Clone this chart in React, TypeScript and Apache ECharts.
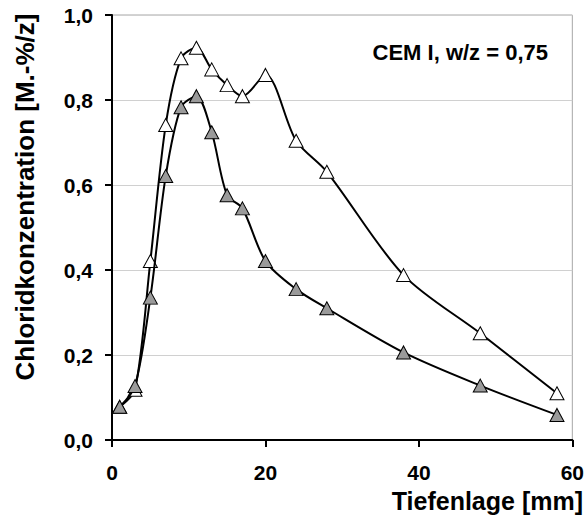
import React, { useEffect, useRef } from "react";
import * as echarts from "echarts";

const depths = [1, 3, 5, 7, 9, 11, 13, 15, 17, 20, 24, 28, 38, 48, 58];
const seriesOpen = [0.078, 0.118, 0.421, 0.741, 0.898, 0.923, 0.872, 0.835, 0.809, 0.859, 0.704, 0.631, 0.388, 0.251, 0.11];
const seriesFilled = [0.078, 0.127, 0.335, 0.621, 0.783, 0.809, 0.724, 0.576, 0.545, 0.421, 0.355, 0.31, 0.206, 0.128, 0.059];
const xTicks = [0, 20, 40, 60];
const yTicks = [0, 0.2, 0.4, 0.6, 0.8, 1.0];
const annotation = "CEM I, w/z = 0,75";
const xName = "Tiefenlage [mm]";
const yName = "Chloridkonzentration [M.-%/z]";

const FONT = "'Liberation Sans', Arial, sans-serif";

export default function App() {
  const ref = useRef<HTMLDivElement>(null);
  useEffect(() => {
    if (!ref.current) return;
    const chart = echarts.init(ref.current, undefined, { renderer: "svg" });
    const mk = (vals: number[]) => depths.map((d, i) => [d, vals[i]]);
    chart.setOption({
      animation: false,
      backgroundColor: "#ffffff",
      grid: {
        left: 112,
        right: 14,
        top: 15,
        bottom: 79,
        show: true,
        borderColor: "#a6a6a6",
        borderWidth: 1,
      },
      xAxis: {
        type: "value",
        min: xTicks[0],
        max: xTicks[xTicks.length - 1],
        interval: 20,
        axisLine: { show: true, lineStyle: { color: "#000", width: 2 } },
        axisTick: { show: true, inside: false, length: 7, lineStyle: { color: "#000", width: 2 } },
        axisLabel: { color: "#000", fontFamily: FONT, fontWeight: "bold", fontSize: 21, margin: 22 },
        splitLine: { show: false },
      },
      yAxis: {
        type: "value",
        min: yTicks[0],
        max: yTicks[yTicks.length - 1],
        interval: 0.2,
        axisLine: { show: true, lineStyle: { color: "#000", width: 2 } },
        axisTick: { show: true, inside: false, length: 7, lineStyle: { color: "#000", width: 2 } },
        axisLabel: {
          color: "#000",
          fontFamily: FONT,
          fontWeight: "bold",
          fontSize: 21,
          margin: 19,
          formatter: (v: number) => v.toFixed(1).replace(".", ","),
        },
        splitLine: { show: true, lineStyle: { color: "#d0d0d0", width: 1 } },
      },
      graphic: [
        {
          type: "text",
          x: 548,
          y: 52,
          style: {
            text: annotation,
            fill: "#000",
            font: `bold 22px ${FONT}`,
            textAlign: "right",
            textVerticalAlign: "middle",
          },
        },
        {
          type: "text",
          x: 583,
          y: 501,
          style: {
            text: xName,
            fill: "#000",
            font: `bold 25px ${FONT}`,
            textAlign: "right",
            textVerticalAlign: "middle",
          },
        },
        {
          type: "text",
          x: 25,
          y: 197,
          rotation: Math.PI / 2,
          style: {
            text: yName,
            fill: "#000",
            font: `bold 26px ${FONT}`,
            textAlign: "center",
            textVerticalAlign: "middle",
          },
        },
      ],
      series: [
        {
          type: "line",
          data: mk(seriesOpen),
          smooth: 0.3,
          symbol: "triangle",
          symbolSize: [14, 13],
          lineStyle: { color: "#000", width: 2 },
          itemStyle: { color: "#ffffff", borderColor: "#000", borderWidth: 1 },
          z: 2,
        },
        {
          type: "line",
          data: mk(seriesFilled),
          smooth: 0.3,
          symbol: "triangle",
          symbolSize: [14, 13],
          lineStyle: { color: "#000", width: 2 },
          itemStyle: { color: "#9a9a9a", borderColor: "#000", borderWidth: 1 },
          z: 3,
        },
      ],
    });
    return () => chart.dispose();
  }, []);
  return <div ref={ref} style={{ width: 587, height: 519, position: "absolute", left: 0, top: 0 }} />;
}
